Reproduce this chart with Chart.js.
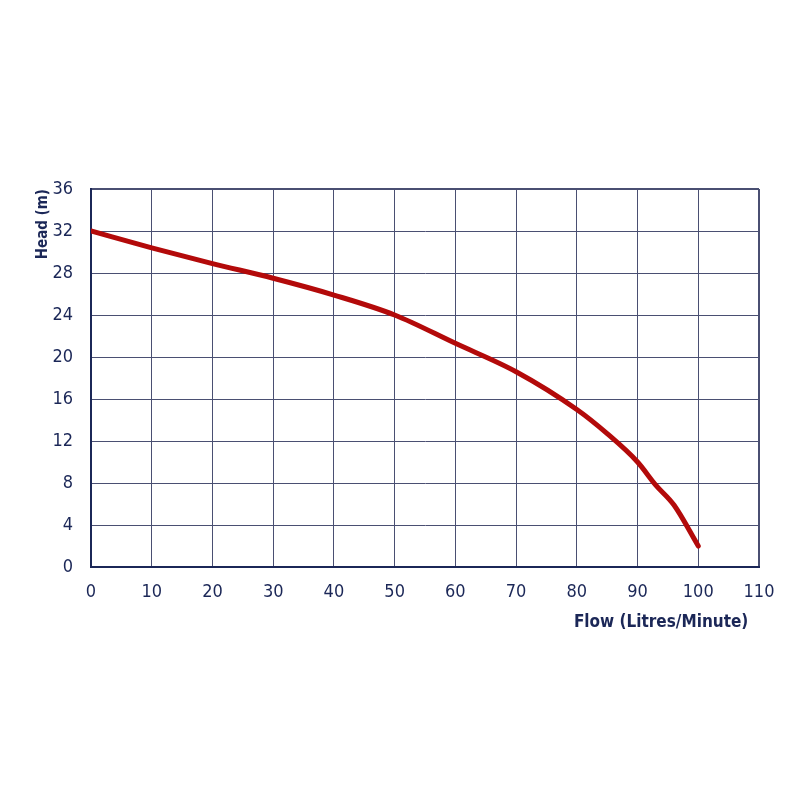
<!DOCTYPE html>
<html>
<head>
<meta charset="utf-8">
<script src="https://cdn.jsdelivr.net/npm/chart.js@4/dist/chart.umd.min.js"></script>
<style>
  html, body { margin: 0; padding: 0; background: #fff; }
  #wrap { width: 800px; height: 800px; }
</style>
</head>
<body>
<div id="wrap"><canvas id="pumpChart" width="800" height="800"></canvas></div>
<script>
// pump curve
const flowValues = [0, 10, 20, 30, 40, 50, 60, 70, 80, 85, 90, 93, 96, 100];
const headValues = [32, 30.4, 28.9, 27.5, 25.9, 24, 21.3, 18.6, 15, 12.7, 10, 7.8, 5.9, 2];
const xTicks = [0, 10, 20, 30, 40, 50, 60, 70, 80, 90, 100, 110];
const yTicks = [0, 4, 8, 12, 16, 20, 24, 28, 32, 36];

const navy = '#1b2757';
const gridColor = '#4a4f72';
const fontFamily = '"Liberation Sans Narrow", "DejaVu Sans Condensed", "Roboto", sans-serif';

const curvePoints = flowValues.map((f, i) => ({ x: f, y: headValues[i] }));

new Chart(document.getElementById('pumpChart'), {
  type: 'line',
  data: {
    datasets: [{
      data: curvePoints,
      borderColor: '#b30a0a',
      borderWidth: 5,
      pointRadius: 0,
      cubicInterpolationMode: 'monotone',
      borderCapStyle: 'round',
      fill: false,
    }],
  },
  options: {
    responsive: false,
    animation: false,
    layout: { padding: { left: 30, right: 41, top: 189, bottom: 167 } },
    plugins: { legend: { display: false }, tooltip: { enabled: false } },
    scales: {
      x: {
        type: 'linear',
        min: 0,
        max: 110,
        afterBuildTicks: (axis) => { axis.ticks = xTicks.map(v => ({ value: v })); },
        grid: {
          color: gridColor,
          lineWidth: (ctx) => (ctx.tick && ctx.tick.value === 110 ? 2 : 1),
          drawTicks: false,
        },
        border: { color: navy, width: 2 },
        ticks: { color: navy, padding: 15, font: { family: fontFamily, size: 18 } },
        title: {
          display: true,
          text: 'Flow (Litres/Minute)  ',
          align: 'end',
          color: navy,
          padding: { top: -6, bottom: 0 },
          font: { family: fontFamily, size: 17, weight: 'bold' },
        },
      },
      y: {
        min: 0,
        max: 36,
        afterBuildTicks: (axis) => { axis.ticks = yTicks.map(v => ({ value: v })); },
        afterFit: (axis) => { axis.width = 61; },
        grid: {
          color: gridColor,
          lineWidth: (ctx) => (ctx.tick && ctx.tick.value === 36 ? 2 : 1),
          drawTicks: false,
        },
        border: { color: navy, width: 2 },
        ticks: { color: navy, padding: 18, font: { family: fontFamily, size: 18 } },
        title: {
          display: true,
          text: 'Head (m)',
          align: 'end',
          color: navy,
          padding: { top: 4, bottom: 0 },
          font: { family: fontFamily, size: 15, weight: 'bold' },
        },
      },
    },
  },
});
</script>
</body>
</html>
